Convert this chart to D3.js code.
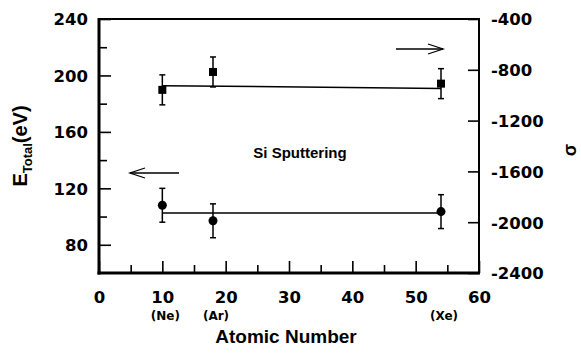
<!DOCTYPE html>
<html><head><meta charset="utf-8">
<script src="https://cdn.jsdelivr.net/npm/d3@7"></script>
<style>
html,body{margin:0;padding:0;background:#fff;}
svg{display:block;}
text{font-family:"Liberation Sans",Arial,Helvetica,sans-serif;font-weight:bold;fill:#000;}
text.tick-lab{font-family:"DejaVu Sans",sans-serif;font-weight:bold;}
</style></head>
<body>
<svg id="chart" width="581" height="355"></svg>
<script>
// ---- data ----
const elements = ["(Ne)", "(Ar)", "(Xe)"];
const atomicNumbers = [10, 18, 54];
const eTotal = [108, 97, 103.5];
const eTotalErr = [12, 12, 12];
const sigma = [-958, -817, -909];
const sigmaErr = [118, 118, 118];
const fitX = [10, 54];
const eTotalFit = [102.5, 102.5];
const sigmaFit = [-925, -947];
const xTicks = [0, 10, 20, 30, 40, 50, 60];
const xMinorTicks = [5, 15, 25, 35, 45, 55];
const eTicks = [80, 120, 160, 200, 240];
const eMinorTicks = [100, 140, 180, 220];
const sigmaTicks = [-2400, -2000, -1600, -1200, -800, -400];

const svg = d3.select("#chart");
const L = 99, R = 479, T = 19, B = 273;
const x = d3.scaleLinear().domain([0, 60]).range([L, R]);
const yE = d3.scaleLinear().domain([60, 240]).range([B, T]);
const yS = d3.scaleLinear().domain([-2400, -400]).range([B, T]);
const fmt = d => String(d);

// axes
const gx = svg.append("g").attr("transform", `translate(0,${B})`)
  .call(d3.axisBottom(x).tickValues(xTicks).tickSize(-12).tickPadding(14).tickFormat(fmt));
const gxm = svg.append("g").attr("transform", `translate(0,${B})`)
  .call(d3.axisBottom(x).tickValues(xMinorTicks).tickSize(-8).tickFormat(""));
const gy = svg.append("g").attr("transform", `translate(${L},0)`)
  .call(d3.axisLeft(yE).tickValues(eTicks).tickSize(-12).tickPadding(11).tickFormat(fmt));
const gym = svg.append("g").attr("transform", `translate(${L},0)`)
  .call(d3.axisLeft(yE).tickValues(eMinorTicks).tickSize(-8).tickFormat(""));
const gs = svg.append("g").attr("transform", `translate(${R},0)`)
  .call(d3.axisRight(yS).tickValues(sigmaTicks).tickSize(-11).tickPadding(12).tickFormat(fmt));
[gx, gxm, gy, gym, gs].forEach(g => {
  g.select(".domain").remove();
  g.attr("font-family", null).attr("font-size", null);
  g.selectAll("line").attr("stroke", "#000").attr("stroke-width", 1.6);
  g.selectAll("text").attr("class", "tick-lab").attr("font-size", 16.5).attr("fill", "#000")
    .style("font-weight", "bold");
});
gx.selectAll("text").attr("dy", null).attr("y", 30);
gy.selectAll("text").attr("dy", "0.36em");
gs.selectAll("text").attr("dy", "0.36em");

// frame
svg.append("line").attr("x1", L).attr("x2", R).attr("y1", T).attr("y2", T).attr("stroke", "#000").attr("stroke-width", 2);
svg.append("line").attr("x1", R).attr("x2", R).attr("y1", T - 1).attr("y2", B).attr("stroke", "#000").attr("stroke-width", 2);
svg.append("line").attr("x1", L).attr("x2", L).attr("y1", T - 1).attr("y2", B + 1.5).attr("stroke", "#000").attr("stroke-width", 3);
svg.append("line").attr("x1", L - 1.5).attr("x2", R + 1).attr("y1", B).attr("y2", B).attr("stroke", "#000").attr("stroke-width", 3);

// fit lines
const lineE = d3.line().x((d, i) => x(fitX[i])).y(d => yE(d));
const lineS = d3.line().x((d, i) => x(fitX[i])).y(d => yS(d));
svg.append("path").attr("d", lineE(eTotalFit)).attr("fill", "none").attr("stroke", "#000").attr("stroke-width", 1.5);
svg.append("path").attr("d", lineS(sigmaFit)).attr("fill", "none").attr("stroke", "#000").attr("stroke-width", 1.5);

// error bars
function errBars(vals, errs, y) {
  const g = svg.append("g").attr("stroke", "#000").attr("stroke-width", 1.5);
  atomicNumbers.forEach((a, i) => {
    const cx = x(a), y1 = y(vals[i] + errs[i]), y2 = y(vals[i] - errs[i]);
    g.append("line").attr("x1", cx).attr("x2", cx).attr("y1", y1).attr("y2", y2);
    g.append("line").attr("x1", cx - 3).attr("x2", cx + 3).attr("y1", y1).attr("y2", y1);
    g.append("line").attr("x1", cx - 3).attr("x2", cx + 3).attr("y1", y2).attr("y2", y2);
  });
}
errBars(eTotal, eTotalErr, yE);
errBars(sigma, sigmaErr, yS);

// markers
svg.append("g").selectAll("circle").data(eTotal).join("circle")
  .attr("cx", (d, i) => x(atomicNumbers[i])).attr("cy", d => yE(d)).attr("r", 4.5).attr("fill", "#000");
svg.append("g").selectAll("rect").data(sigma).join("rect")
  .attr("x", (d, i) => x(atomicNumbers[i]) - 4).attr("y", d => yS(d) - 4)
  .attr("width", 8).attr("height", 8).attr("fill", "#000");

// element labels
svg.append("g").selectAll("text").data(elements).join("text")
  .attr("class", "tick-lab")
  .attr("x", (d, i) => x(atomicNumbers[i]) + 3).attr("y", 320)
  .attr("text-anchor", "middle").attr("font-size", 12).style("font-weight", "bold").text(d => d);

// arrows
function arrow(x1, x2, y) {
  const dir = Math.sign(x2 - x1);
  const g = svg.append("g").attr("stroke", "#000").attr("stroke-width", 1.3).attr("fill", "none");
  g.append("line").attr("x1", x1).attr("x2", x2).attr("y1", y).attr("y2", y);
  g.append("path").attr("d", `M${x2 - dir * 15},${y - 5} L${x2},${y} L${x2 - dir * 15},${y + 5}`);
}
arrow(179, 130, 173);
arrow(396, 443, 49);

// texts
svg.append("text").attr("x", 300).attr("y", 158).attr("text-anchor", "middle").attr("font-size", 15).text("Si Sputtering");
svg.append("text").attr("x", 286).attr("y", 343).attr("text-anchor", "middle").attr("font-size", 19).text("Atomic Number");
const yt = svg.append("text").attr("transform", "translate(27,146) rotate(-90)").attr("text-anchor", "middle").attr("font-size", 20);
yt.append("tspan").text("E");
yt.append("tspan").attr("font-size", 13).attr("dy", 5).text("Total");
yt.append("tspan").attr("dy", -5).text("(eV)");
svg.append("text").attr("transform", "translate(576,150) rotate(-90)").attr("text-anchor", "middle").attr("font-size", 18).attr("font-weight", "normal").text("σ");
</script>
</body></html>
